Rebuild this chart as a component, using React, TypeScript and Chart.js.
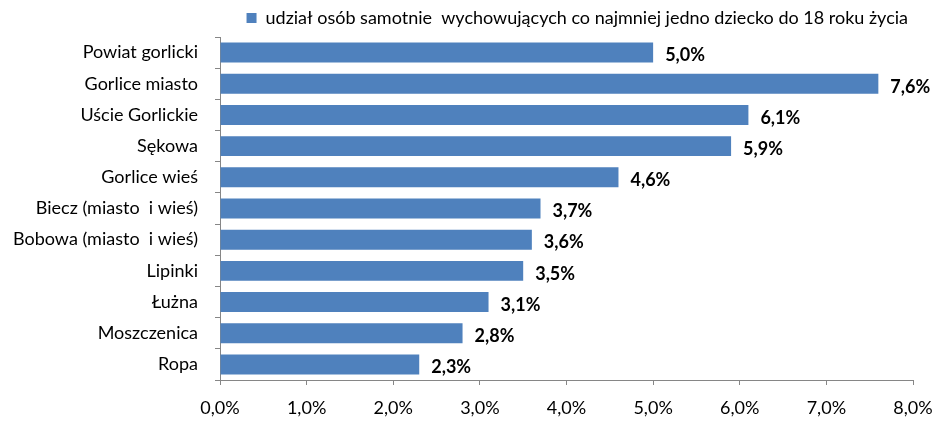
import React, { useEffect, useRef } from "react";
import { Chart, registerables } from "chart.js";

Chart.register(...registerables);

const categories = [
  "Powiat gorlicki",
  "Gorlice miasto",
  "Uście Gorlickie",
  "Sękowa",
  "Gorlice wieś",
  "Biecz (miasto  i wieś)",
  "Bobowa (miasto  i wieś)",
  "Lipinki",
  "Łużna",
  "Moszczenica",
  "Ropa",
];
const values = [5.0, 7.6, 6.1, 5.9, 4.6, 3.7, 3.6, 3.5, 3.1, 2.8, 2.3];
const seriesName =
  "udział osób samotnie  wychowujących co najmniej jedno dziecko do 18 roku życia";
const xTicks = [0, 1, 2, 3, 4, 5, 6, 7, 8];

const FONT = "Lato, 'Open Sans', sans-serif";
const fmt = (v: number) => v.toFixed(1).replace(".", ",") + "%";

const dataLabels = {
  id: "dataLabels",
  afterDatasetsDraw(chart: any) {
    const ctx = chart.ctx;
    const meta = chart.getDatasetMeta(0);
    ctx.save();
    ctx.font = `bold 18px ${FONT}`;
    ctx.fillStyle = "#000";
    ctx.textAlign = "left";
    ctx.textBaseline = "middle";
    meta.data.forEach((el: any, i: number) => {
      ctx.fillText(fmt(values[i]), el.x + 12, el.y + 3);
    });
    ctx.restore();
  },
};

export default function App() {
  const ref = useRef<HTMLCanvasElement>(null);
  useEffect(() => {
    document.body.style.margin = "0";
    const chart = new Chart(ref.current!, {
      type: "bar",
      data: {
        labels: categories,
        datasets: [
          {
            label: seriesName,
            data: values,
            backgroundColor: "#4F81BD",
            borderWidth: 0,
            categoryPercentage: 0.64,
            barPercentage: 1,
          },
        ],
      },
      options: {
        indexAxis: "y",
        animation: false,
        responsive: false,
        layout: { padding: { left: 8, right: 24, top: 4, bottom: 0 } },
        plugins: {
          tooltip: { enabled: false },
          legend: {
            position: "top",
            align: "end",
            labels: {
              boxWidth: 10,
              boxHeight: 10,
              padding: 5,
              color: "#000",
              font: { family: FONT, size: 18 },
            },
          },
        },
        scales: {
          x: {
            min: 0,
            max: 8,
            afterBuildTicks: (s: any) => {
              s.ticks = xTicks.map((v) => ({ value: v }));
            },
            afterFit: (s: any) => {
              s.height = 43;
              s.paddingRight = 20;
              s.paddingLeft = 0;
            },
            ticks: {
              color: "#000",
              font: { family: FONT, size: 18 },
              padding: 12,
              maxRotation: 0,
              callback: (v: any) => fmt(Number(v)),
            },
            grid: {
              drawOnChartArea: false,
              drawTicks: true,
              tickLength: 5,
              color: "#868686",
            },
            border: { color: "#868686", width: 1 },
          },
          y: {
            afterFit: (s: any) => {
              s.width = 212;
            },
            ticks: {
              color: "#000",
              font: { family: FONT, size: 18 },
              padding: 17,
            },
            grid: {
              offset: true,
              drawOnChartArea: false,
              drawTicks: true,
              tickLength: 5,
              color: "#868686",
            },
            border: { color: "#868686", width: 1 },
          },
        },
      },
      plugins: [dataLabels],
    });
    return () => chart.destroy();
  }, []);
  return (
    <div style={{ width: 937, height: 423 }}>
      <canvas ref={ref} width={937} height={423} />
    </div>
  );
}
